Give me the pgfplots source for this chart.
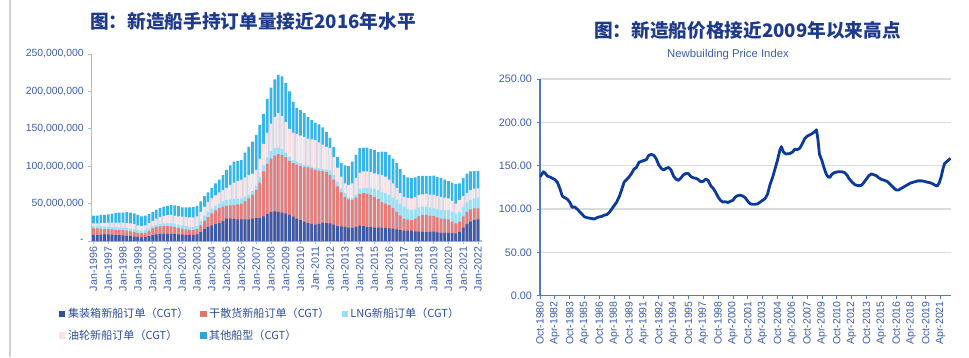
\documentclass[border=0pt]{standalone}
\usepackage{pgfplots}
\usepackage{pgfplotstable}
\pgfplotsset{compat=1.18}
\usepackage{fontspec}
\setmainfont{Liberation Sans}
\newfontfamily\cjk{Noto Sans CJK SC}
\definecolor{titlec}{HTML}{1E3A8A}
\definecolor{tickc}{HTML}{3D5CAB}
\definecolor{legc}{HTML}{2E4C9C}
\definecolor{laxis}{HTML}{A6BDE3}
\definecolor{raxis}{HTML}{4F78C8}
\definecolor{gridc}{HTML}{DCDCDC}
\definecolor{linec}{HTML}{0B3A9A}
\definecolor{ccont}{HTML}{3A5AAC}
\definecolor{cbulk}{HTML}{EC7A76}
\definecolor{clng}{HTML}{98E2F8}
\definecolor{ctank}{HTML}{FCE2E5}
\definecolor{cother}{HTML}{35B5EA}

% cumulative tops (million CGT): C container, B +bulk, L +LNG, T +tanker, O total
\pgfplotstableread{
t C B L T O
1996.00 8 17 20 23.5 34
1996.25 8 17 20 23.5 34
1996.50 8.5 16.5 20 24 34.5
1996.75 9 16 19.5 24 35
1997.00 9 16 19.5 24.5 35.5
1997.25 8.5 15.5 19 24.5 36.5
1997.50 8 15 18.5 24.5 37.5
1997.75 8 14.5 18 24.5 38
1998.00 7.5 14.5 18 24.5 38
1998.25 7 14 17.5 24 38.5
1998.50 6.5 13 16.5 23.5 38
1998.75 6 12 15.5 22.5 37
1999.00 5.5 11 14.5 21 35
1999.25 5 10.5 14 20 33
1999.50 5.5 11 14.5 21 34
1999.75 6.5 13.5 16.5 24 36
2000.00 8 17 19.5 27 39
2000.25 9 19 21.5 30 42
2000.50 9.5 19.5 22.5 32 44
2000.75 10 20 23.5 33.5 46
2001.00 10 20 24 34.5 47
2001.25 10 19.5 24 35 48
2001.50 9.5 18.5 23 34 47.5
2001.75 9 17.5 22 33 46.5
2002.00 8.5 16.5 21 32.5 45
2002.25 8 15.5 20 32 45
2002.50 8 15 19 31.5 45
2002.75 8 15 19 31.5 45.5
2003.00 9 16 20 33 47
2003.25 12 21 27 39 53
2003.50 16 27 34 46 60
2003.75 19 32 39 52 65
2004.00 21 37 43 57 71
2004.25 22.5 41 47 61 77
2004.50 24 44 50 65 82
2004.75 27 46 53 68 88
2005.00 30 47 55 71 95
2005.25 30 47.5 55.5 75 101
2005.50 29.5 48 56 78 106
2005.75 29 49 56.5 80 107
2006.00 29 50 57 82 108
2006.25 29 53 59 85 118
2006.50 29 57 62 88 126
2006.75 30 62 67 90 133
2007.00 31 68 74 95 142
2007.25 31 78 86 110 155
2007.50 33 93 101 130 170
2007.75 36 103 112 145 190
2008.00 39 110 120 157 205
2008.25 39.5 114 124 166 216
2008.50 39 116 125 171 222
2008.75 38 115 123 167 220
2009.00 37 112 118 159 211
2009.25 35 107 112 150 200
2009.50 32.5 104 108 145 186
2009.75 30 102 106 143 178
2010.00 28 100 104 141 175
2010.25 26 99 102 139 171
2010.50 24 98.5 101 137 166
2010.75 23 97 99.5 136 162
2011.00 22 95 98 135 158
2011.25 23 94 97 132 156
2011.50 24.5 93.5 96 129 152
2011.75 24 92 95.5 126 146
2012.00 23.5 88 94 124 138
2012.25 22 82 88 112 126
2012.50 20 73 79 98 112
2012.75 19.5 65 70 86 104
2013.00 19 59 64 77 101
2013.25 18 55.5 58 75 100
2013.50 18 55 57 77 106
2013.75 19 58 62 84 115
2014.00 20.5 63 70 91 124
2014.25 20 64 71 93 125
2014.50 19 63.5 71 93 125
2014.75 18.5 61.5 70.5 92 123
2015.00 18 59 70 90.5 121.5
2015.25 18 56 68 89 119
2015.50 18 52 66 88 119.5
2015.75 17.5 50 64 86 119
2016.00 17 48 61.5 82 115
2016.25 16.5 44 58 77 110
2016.50 15.6 39 55 71 104
2016.75 14.5 34 50 64 96
2017.00 13.8 30 46 59 88
2017.25 14 28.5 43 57.5 85
2017.50 14 28 41.5 57 84
2017.75 13 30 43 59 85
2018.00 12.4 33 45 61.5 87
2018.25 12.2 34.5 46 62.5 87
2018.50 12 35 46 63 87
2018.75 12.2 34 45 62 87
2019.00 12.4 33.4 43.7 61.5 87.3
2019.25 11.5 31.5 42.5 60 85.5
2019.50 11 30 41.5 59 84
2019.75 11 29.5 41.5 58 82
2020.00 11 29 41.5 57 80
2020.25 10.5 26 39 53.5 78
2020.50 10.2 23.6 37 50 76
2020.75 12 25.8 39 55 77
2021.00 18 33 46 60 84
2021.25 23 39 51.5 64.5 90
2021.50 26 42.4 55 68 93
2021.75 28 43.5 57 70 93.5
2022.00 29 43.7 58 70.5 93.6
}\shipdata

\pgfplotstableread{
t v
1980.75 137
1980.92 140
1981.10 143
1981.30 141
1981.50 138
1981.75 137
1982.00 135.5
1982.25 134
1982.50 131
1982.75 124
1983.00 115
1983.25 113
1983.50 111.5
1983.75 108
1984.00 102
1984.25 102.5
1984.50 100
1984.75 97
1985.00 94
1985.25 91
1985.50 90
1985.75 89.5
1986.00 89
1986.25 88.5
1986.50 90
1986.75 91
1987.00 91.5
1987.25 93
1987.50 93.5
1987.75 96
1988.00 100
1988.25 104
1988.50 108
1988.75 114
1989.00 122
1989.25 131
1989.50 134
1989.75 137
1990.00 141
1990.25 146
1990.50 148
1990.75 154
1991.00 155
1991.25 156
1991.50 157
1991.75 162
1992.00 163
1992.25 162
1992.50 158
1992.75 151
1993.00 147
1993.25 145
1993.50 147
1993.75 148
1994.00 145
1994.25 138
1994.50 134.5
1994.75 133
1995.00 136
1995.25 139.5
1995.50 141
1995.75 141
1996.00 137.5
1996.25 136
1996.50 135.5
1996.75 134
1997.00 131.5
1997.25 132
1997.50 134.5
1997.75 133
1998.00 127
1998.25 124
1998.50 119.5
1998.75 114
1999.00 110
1999.25 108
1999.50 108.5
1999.75 107.5
2000.00 109
2000.25 110
2000.50 114
2000.75 115.5
2001.00 116
2001.25 115
2001.50 113
2001.75 109
2002.00 106
2002.25 105.5
2002.50 105.5
2002.75 106
2003.00 108
2003.25 110
2003.50 112
2003.75 117
2004.00 128
2004.25 136
2004.50 146
2004.75 156
2005.00 168
2005.15 172
2005.35 166
2005.60 163.5
2006.00 164
2006.30 166
2006.50 169
2006.75 168.5
2007.00 170
2007.25 175
2007.50 181
2007.75 184
2008.00 185.5
2008.25 187
2008.50 189
2008.70 191.5
2008.85 180
2009.00 163
2009.25 156
2009.45 148
2009.70 140
2009.90 137
2010.05 136.5
2010.25 140
2010.50 142
2010.90 143
2011.25 143
2011.55 142
2011.80 139
2012.00 135
2012.30 131
2012.60 128
2012.90 127
2013.20 127
2013.45 130
2013.70 134
2014.00 138.5
2014.25 140.5
2014.50 139.5
2014.75 138.5
2015.00 136
2015.30 134
2015.60 133
2015.90 131.5
2016.20 128
2016.50 124.5
2016.75 122
2017.00 122
2017.30 124
2017.60 126
2017.90 128
2018.20 130
2018.50 131
2018.95 132.5
2019.30 132.5
2019.60 132
2019.90 131
2020.30 130
2020.60 128
2020.90 126.5
2021.10 130
2021.30 137
2021.50 147
2021.65 152.5
2021.90 155
2022.10 157
2022.25 158.5
}\pricedata

\begin{document}
\begin{tikzpicture}
\useasboundingbox (0pt,0pt) rectangle (726.75pt,267.75pt);
\draw[black!18, line width=0.8pt] (7.5pt,0pt) -- (7.5pt,267.75pt);

\node[font=\cjk\bfseries\fontsize{14}{16}\selectfont, text=titlec] at (189.75pt,252pt) {图：新造船手持订单量接近2016年水平};
\node[font=\cjk\bfseries\fontsize{14}{16}\selectfont, text=titlec] at (560.6pt,245.25pt) {图：新造船价格接近2009年以来高点};
\node[font=\fontsize{8.5}{10}\selectfont, text=tickc] at (546pt,226.5pt) {Newbuilding Price Index};

% ---------------- left: order book ----------------
\begin{axis}[
  at={(68.775pt,87pt)}, anchor=south west,
  scale only axis, width=292.5pt, height=140.25pt,
  xmin=1995.88, xmax=2022.25, ymin=0, ymax=250,
  axis x line*=bottom, axis y line*=left,
  axis line style={-, draw=laxis, line width=0.9pt},
  tick align=outside, major tick length=2.5pt,
  tick style={draw=laxis, line width=0.6pt},
  xtick={1996,1997,...,2022},
  xticklabels={Jan-1996,Jan-1997,Jan-1998,Jan-1999,Jan-2000,Jan-2001,Jan-2002,Jan-2003,Jan-2004,Jan-2005,Jan-2006,Jan-2007,Jan-2008,Jan-2009,Jan-2010,Jan-2011,Jan-2012,Jan-2013,Jan-2014,Jan-2015,Jan-2016,Jan-2017,Jan-2018,Jan-2019,Jan-2020,Jan-2021,Jan-2022},
  x tick label style={rotate=90, anchor=east, font=\fontsize{8}{9}\selectfont, text=tickc, inner sep=1.5pt},
  ytick={0,50,...,250},
  yticklabels={-,{50,000,000},{100,000,000},{150,000,000},{200,000,000},{250,000,000}},
  y tick label style={font=\fontsize{7.8}{9}\selectfont, text=tickc},
  legend columns=3,
  legend cell align=left,
  legend image code/.code={\fill[#1, draw=none] (0pt,-2.3pt) rectangle (4.6pt,2.3pt);},
  legend style={at={(axis description cs:-0.094,-0.33)}, anchor=north west, draw=none, fill=none,
    font=\cjk\fontsize{8.3}{10}\selectfont, text=legc, row sep=3.5pt,
    /tikz/every even column/.append style={column sep=7pt}},
]
\addlegendimage{fill=ccont!90!black, draw=none}
\addlegendentry{集装箱新船订单（CGT）}
\addlegendimage{fill=cbulk!95!black, draw=none}
\addlegendentry{干散货新船订单（CGT）}
\addlegendimage{fill=clng, draw=none}
\addlegendentry{LNG新船订单（CGT）}
\addlegendimage{fill=ctank, draw=none}
\addlegendentry{油轮新船订单（CGT）}
\addlegendimage{fill=cother!90!black, draw=none}
\addlegendentry{其他船型（CGT）}
\addplot[ybar, bar shift=0pt, bar width=0.185, fill=cother, draw=none, forget plot] table[x=t,y=O]{\shipdata};
\addplot[ybar, bar shift=0pt, bar width=0.185, fill=ctank, draw=none, forget plot] table[x=t,y=T]{\shipdata};
\addplot[ybar, bar shift=0pt, bar width=0.185, fill=clng, draw=none, forget plot] table[x=t,y=L]{\shipdata};
\addplot[ybar, bar shift=0pt, bar width=0.185, fill=cbulk, draw=none, forget plot] table[x=t,y=B]{\shipdata};
\addplot[ybar, bar shift=0pt, bar width=0.185, fill=ccont, draw=none, forget plot] table[x=t,y=C]{\shipdata};
\end{axis}

% ---------------- right: price index ----------------
\begin{axis}[
  at={(405pt,45.975pt)}, anchor=south west,
  scale only axis, width=308.25pt, height=162.5pt,
  xmin=1980.75, xmax=2022.3, ymin=0, ymax=250,
  axis x line*=bottom, axis y line*=left,
  axis line style={-, draw=raxis, line width=0.8pt},
  tick align=outside, major tick length=2.5pt,
  tick style={draw=raxis, line width=0.6pt},
  ymajorgrids, grid style={draw=gridc, line width=0.9pt},
  xtick={1980.75,1982.25,...,2021.25},
  xticklabels={Oct-1980,Apr-1982,Oct-1983,Apr-1985,Oct-1986,Apr-1988,Oct-1989,Apr-1991,Oct-1992,Apr-1994,Oct-1995,Apr-1997,Oct-1998,Apr-2000,Oct-2001,Apr-2003,Oct-2004,Apr-2006,Oct-2007,Apr-2009,Oct-2010,Apr-2012,Oct-2013,Apr-2015,Oct-2016,Apr-2018,Oct-2019,Apr-2021},
  x tick label style={rotate=90, anchor=east, font=\fontsize{7.9}{9}\selectfont, text=tickc, inner sep=1.5pt},
  ytick={0,50,...,250},
  yticklabels={0.00,50.00,100.00,150.00,200.00,250.00},
  y tick label style={font=\fontsize{8.1}{9}\selectfont, text=tickc},
]
\addplot[color=linec, line width=2.1pt, line join=round] table[x=t,y=v]{\pricedata};
\end{axis}
\end{tikzpicture}
\end{document}
